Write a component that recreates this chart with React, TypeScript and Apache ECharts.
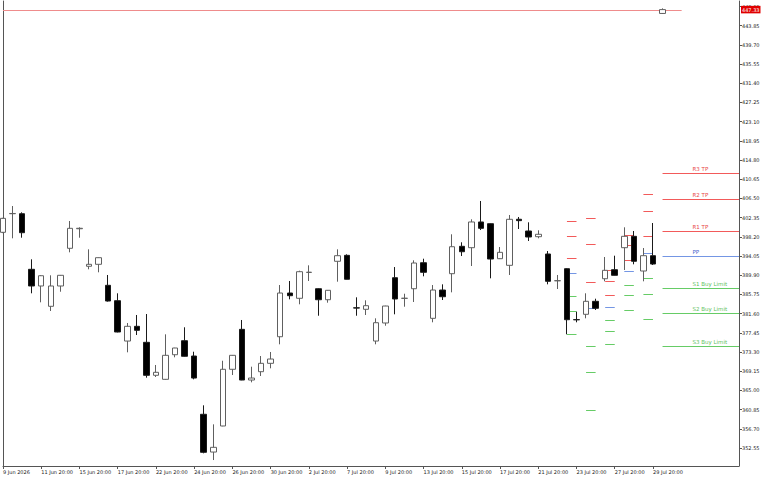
import React, { useEffect, useRef } from "react";
import * as echarts from "echarts";

const YEAR = "2026";
const barTimes = [
  "9 Jun 20:00", "10 Jun 08:00", "10 Jun 20:00", "11 Jun 08:00", "11 Jun 20:00", "12 Jun 08:00", "12 Jun 20:00",
  "15 Jun 08:00", "15 Jun 20:00", "16 Jun 08:00", "16 Jun 20:00", "17 Jun 08:00", "17 Jun 20:00", "18 Jun 08:00",
  "18 Jun 20:00", "22 Jun 08:00", "22 Jun 20:00", "23 Jun 08:00", "23 Jun 20:00", "24 Jun 08:00", "24 Jun 20:00",
  "25 Jun 08:00", "25 Jun 20:00", "26 Jun 08:00", "26 Jun 20:00", "29 Jun 08:00", "29 Jun 20:00", "30 Jun 08:00",
  "30 Jun 20:00", "1 Jul 08:00", "1 Jul 20:00", "2 Jul 08:00", "2 Jul 20:00", "6 Jul 08:00", "6 Jul 20:00",
  "7 Jul 08:00", "7 Jul 20:00", "8 Jul 08:00", "8 Jul 20:00", "9 Jul 08:00", "9 Jul 20:00", "10 Jul 08:00",
  "10 Jul 20:00", "13 Jul 08:00", "13 Jul 20:00", "14 Jul 08:00", "14 Jul 20:00", "15 Jul 08:00", "15 Jul 20:00",
  "16 Jul 08:00", "16 Jul 20:00", "17 Jul 08:00", "17 Jul 20:00", "20 Jul 08:00", "20 Jul 20:00", "21 Jul 08:00",
  "21 Jul 20:00", "22 Jul 08:00", "22 Jul 20:00", "23 Jul 08:00", "23 Jul 20:00", "24 Jul 08:00", "24 Jul 20:00",
  "27 Jul 08:00", "27 Jul 20:00", "28 Jul 08:00", "28 Jul 20:00", "29 Jul 08:00", "29 Jul 20:00", "30 Jul 08:00",
];
const futureTimes = [
  "30 Jul 20:00", "31 Jul 08:00", "31 Jul 20:00", "3 Aug 08:00", "3 Aug 20:00", "4 Aug 08:00", "4 Aug 20:00", "5 Aug 08:00",
];

const opens = [
  399.18, 403.2, 403.2, 391.18, 387.57, 383.18, 387.57, 395.72, 399.95, 391.83,
  392.26, 387.72, 384.39, 375.67, 378.85, 375.39, 368.26, 367.39, 372.71, 375.74,
  372.43, 359.83, 351.67, 357.3, 369.56, 378.2, 367.24, 369.04, 370.85, 376.6,
  386.05, 384.91, 390.5, 386.98, 384.6, 392.91, 394.2, 382.85, 382.53, 375.67,
  379.57, 389.36, 384.9, 386.98, 392.6, 380.58, 386.7, 390.23, 396.15, 395.85,
  401.41, 401.04, 393.47, 392.04, 402.0, 399.46, 398.23, 394.49, 388.7, 391.31,
  380.3, 381.45, 384.26, 389.14, 391.09, 395.85, 398.31, 390.81, 394.12, 446.5,
];
const closes = [
  402.2, 403.25, 399.09, 387.57, 389.79, 387.57, 389.88, 400.04, 400.05, 392.26,
  393.69, 384.32, 377.62, 378.85, 377.99, 368.26, 368.91, 372.58, 374.16, 372.37,
  367.67, 351.61, 352.69, 369.56, 372.58, 367.24, 367.67, 370.85, 371.78, 386.05,
  385.47, 390.66, 390.55, 384.6, 386.64, 394.12, 389.02, 382.8, 383.31, 379.63,
  383.24, 384.76, 384.92, 392.54, 390.53, 386.7, 385.25, 396.06, 394.98, 401.41,
  400.04, 393.4, 394.85, 401.99, 401.7, 398.16, 398.75, 388.58, 388.72, 380.28,
  380.26, 384.26, 382.75, 390.96, 389.88, 398.31, 392.91, 394.12, 392.32, 447.33,
];
const lows = [
  399.0, 397.88, 398.01, 385.99, 384.04, 382.16, 386.33, 394.85, 398.01, 391.18,
  390.53, 384.2, 377.55, 373.23, 376.97, 367.74, 367.89, 367.3, 372.15, 372.3,
  367.39, 351.39, 349.94, 357.25, 368.32, 367.2, 366.74, 368.11, 369.77, 374.96,
  384.69, 383.61, 388.65, 381.14, 383.96, 388.5, 389.0, 381.14, 381.3, 374.96,
  378.98, 381.45, 383.09, 384.11, 389.66, 379.72, 384.54, 386.2, 394.05, 391.89,
  399.67, 389.23, 393.4, 389.95, 399.89, 397.3, 397.88, 387.93, 386.92, 377.12,
  379.72, 380.58, 382.38, 388.58, 389.85, 391.03, 392.26, 388.58, 392.11, 446.4,
];
const highs = [
  402.3, 404.86, 403.5, 393.34, 389.9, 389.88, 389.95, 401.62, 400.26, 395.5,
  393.75, 389.95, 385.99, 379.57, 381.3, 381.51, 370.49, 377.12, 374.2, 378.64,
  373.36, 361.77, 357.66, 371.41, 372.65, 380.22, 370.12, 372.43, 373.3, 387.78,
  388.65, 390.88, 392.04, 387.05, 386.7, 395.5, 394.42, 385.12, 384.48, 380.58,
  383.3, 391.67, 385.9, 393.12, 393.47, 387.78, 387.93, 398.75, 397.02, 401.99,
  405.95, 401.1, 396.0, 402.92, 402.49, 401.34, 399.61, 395.13, 389.95, 391.4,
  382.01, 385.99, 384.82, 393.84, 394.12, 400.26, 399.46, 395.78, 401.19, 447.6,
];

const bidPrice = 447.33;
const bidLineEnd = 70.6;

const yTickValues = [
  448.0, 443.85, 439.7, 435.55, 431.4, 427.25, 423.1, 418.95, 414.8, 410.65, 406.5, 402.35,
  398.2, 394.05, 389.9, 385.75, 381.6, 377.45, 373.3, 369.15, 365.0, 360.85, 356.7, 352.55,
];
const yMin = 348.65;
const yMax = 449.19;

// pivot periods (start bar, end bar) and levels per period
const periodStart = [59, 61, 63, 65, 67, 69];
const periodEnd = [60, 62, 64, 66, 68, 77];
const levelNames = ["R3 TP", "R2 TP", "R1 TP", "PP", "S1 Buy Limit", "S2 Buy Limit", "S3 Buy Limit"];
const levelR3 = [401.69, 402.27, 391.03, 398.59, 407.39, 411.93];
const levelR2 = [398.31, 396.71, 388.58, 396.37, 403.85, 406.44];
const levelR1 = [393.56, 388.37, 385.69, 393.12, 398.38, 399.46];
const levelPP = [390.31, 382.75, 383.09, 390.88, 394.77, 394.12];
const levelS1 = [385.34, 374.53, 380.22, 387.78, 389.3, 387.13];
const levelS2 = [382.1, 368.91, 377.77, 385.56, 385.77, 381.66];
const levelS3 = [377.12, 360.69, 374.96, 382.44, 380.37, 374.66];

const RED = "#f25a5a";
const BLUE = "#7496e4";
const GREEN = "#66cc66";
const levelLineColors = [RED, RED, RED, BLUE, GREEN, GREEN, GREEN];
const levelTextColors = ["#e84848", "#e84848", "#e84848", "#4a68cc", "#5cbf5c", "#5cbf5c", "#5cbf5c"];
const FONT = "DejaVu Sans";

export default function App() {
  const ref = useRef<HTMLDivElement>(null);

  useEffect(() => {
    if (!ref.current) return;
    const chart = echarts.init(ref.current, undefined, { renderer: "svg" });
    const categories = barTimes.concat(futureTimes);
    const candleData = opens.map((o, i) => [o, closes[i], lows[i], highs[i]]);
    const levels = [levelR3, levelR2, levelR1, levelPP, levelS1, levelS2, levelS3];
    const levelData: number[][] = [];
    periodStart.forEach((s, i) => {
      levels.forEach((arr, j) => {
        levelData.push([s, periodEnd[i], arr[i], j, i === periodStart.length - 1 ? 1 : 0]);
      });
    });
    const showIdx = (idx: number) => idx % 4 === 0 && idx < barTimes.length;

    const option: any = {
      animation: false,
      backgroundColor: "#ffffff",
      grid: { left: 1, right: 29, top: 1, bottom: 14, containLabel: false },
      xAxis: {
        type: "category",
        data: categories,
        boundaryGap: false,
        axisLine: { show: true, lineStyle: { color: "#555", width: 1 } },
        axisTick: { show: true, interval: showIdx, length: 3, lineStyle: { color: "#555" } },
        axisLabel: {
          interval: showIdx,
          align: "left",
          margin: 3,
          fontSize: 5,
          fontFamily: FONT,
          color: "#222",
          formatter: (v: string, idx: number) => {
            if (idx >= barTimes.length) return "";
            if (idx === 0) return v.split(" ").slice(0, 2).join(" ") + " " + YEAR;
            return v;
          },
        },
        splitLine: { show: false },
      },
      yAxis: [
        {
          type: "value",
          position: "right",
          min: yMin,
          max: yMax,
          scale: true,
          axisLine: { show: true, lineStyle: { color: "#555", width: 1 } },
          axisTick: { show: true, length: 3, customValues: yTickValues, lineStyle: { color: "#555" } },
          axisLabel: {
            customValues: yTickValues,
            margin: 3,
            fontSize: 5,
            fontFamily: FONT,
            color: "#222",
            formatter: (v: number) => v.toFixed(2),
          },
          splitLine: { show: false },
        },
        {
          type: "value",
          position: "left",
          min: yMin,
          max: yMax,
          axisLine: { show: true, lineStyle: { color: "#555", width: 1 } },
          axisTick: { show: false },
          axisLabel: { show: false },
          splitLine: { show: false },
        },
      ],
      series: [
        {
          type: "candlestick",
          data: candleData,
          barWidth: 6,
          clip: true,
          itemStyle: {
            color: "#ffffff",
            color0: "#000000",
            borderColor: "#606060",
            borderColor0: "#1a1a1a",
            borderWidth: 1,
          },
          markLine: {
            silent: true,
            symbol: "none",
            animation: false,
            lineStyle: { color: "rgba(0,0,0,0)", width: 0, type: "solid" },
            label: {
              show: true,
              position: "end",
              distance: 2,
              formatter: (p: any) => Number(p.value).toFixed(2),
              backgroundColor: "#e00000",
              color: "#ffffff",
              fontSize: 5,
              fontFamily: FONT,
              padding: [1.5, 1, 1, 1],
            },
            data: [{ yAxis: bidPrice }],
          },
          z: 3,
        },
        {
          type: "custom",
          data: [[0, bidLineEnd, bidPrice]],
          encode: { x: [0, 1], y: 2 },
          renderItem: (params: any, api: any) => {
            const p1 = api.coord([api.value(0), api.value(2)]);
            const p2 = api.coord([api.value(1), api.value(2)]);
            const y = Math.round(p1[1]) + 0.5;
            return {
              type: "line",
              shape: { x1: p1[0], y1: y, x2: p2[0], y2: y },
              style: { stroke: "#ef8c8c", lineWidth: 1 },
            };
          },
          z: 1,
        },
        {
          type: "custom",
          data: levelData,
          encode: { x: [0, 1], y: 2 },
          renderItem: (params: any, api: any) => {
            const s = api.value(0);
            const e = api.value(1);
            const v = api.value(2);
            const t = api.value(3);
            const withLabel = api.value(4) === 1;
            const p1 = api.coord([s, v]);
            const p2 = api.coord([e, v]);
            const y = Math.round(p1[1]) + 0.5;
            const children: any[] = [
              {
                type: "line",
                shape: { x1: p1[0], y1: y, x2: p2[0], y2: y },
                style: { stroke: levelLineColors[t], lineWidth: 1 },
              },
            ];
            if (withLabel) {
              children.push({
                type: "text",
                style: {
                  text: levelNames[t],
                  x: p1[0] + 30,
                  y: y - 1.5,
                  fill: levelTextColors[t],
                  fontSize: 5.5,
                  fontFamily: FONT,
                  align: "left",
                  verticalAlign: "bottom",
                },
              });
            }
            return { type: "group", children };
          },
          z: 2,
        },
      ],
    };
    chart.setOption(option);
    return () => chart.dispose();
  }, []);

  return (
    <div
      ref={ref}
      style={{ position: "fixed", left: 0, top: 0, width: 768, height: 480, background: "#fff" }}
    />
  );
}
